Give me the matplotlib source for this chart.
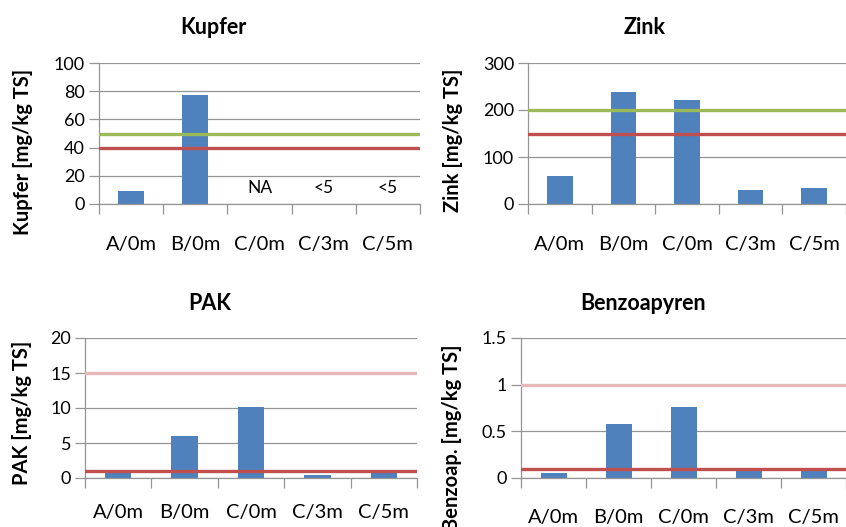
import matplotlib.pyplot as plt
from matplotlib.ticker import FixedLocator

categories = ['A/0m', 'B/0m', 'C/0m', 'C/3m', 'C/5m']

kupfer = [9, 77, 0, 0, 0]
kupfer_notes = ['', '', 'NA', '<5', '<5']
kupfer_limits = [50, 40]

zink = [59, 238, 221, 29, 35]
zink_limits = [200, 150]

pak = [0.8, 6.07, 10.2, 0.47, 0.8]
pak_limits = [15, 1]

benzo = [0.057, 0.577, 0.762, 0.075, 0.075]
benzo_limits = [1, 0.1]

BLUE = '#4F81BD'
GREEN = '#9BBB59'
RED = '#C0504D'
PINK = '#E6B9B8'
GRID = '#959595'

plt.rcParams['font.family'] = ['Lato', 'DejaVu Sans']

W, H = 846, 527
fig = plt.figure(figsize=(W / 100, H / 100), dpi=100)


def px_axes(left, top, right, bottom):
    return fig.add_axes([left / W, 1 - bottom / H, (right - left) / W, (bottom - top) / H])


def panel(ax, values, yticks, yticklabels, limits, limit_colors, ylabel, label_xy, pad):
    x = list(range(len(categories)))
    ax.bar(x, values, width=0.4, color=BLUE, zorder=2)
    for val, col in zip(limits, limit_colors):
        ax.axhline(val, color=col, lw=2.4, zorder=3)
    ax.set_xlim(-0.5, len(categories) - 0.5)
    ax.set_ylim(yticks[0], yticks[-1])
    ax.set_yticks(yticks)
    ax.set_yticklabels(yticklabels, fontsize=13)
    ax.yaxis.grid(True, color=GRID, lw=0.9, zorder=0)
    ax.set_axisbelow(True)
    ax.set_xticks(x)
    ax.set_xticklabels(categories, fontsize=14.5)
    ax.xaxis.set_minor_locator(FixedLocator([i - 0.5 for i in range(len(categories) + 1)]))
    ax.tick_params(axis='x', which='major', length=0, pad=pad)
    ax.tick_params(axis='x', which='minor', length=7, color=GRID, width=0.9)
    ax.tick_params(axis='y', length=7, color=GRID, width=0.9, pad=3)
    for s in ['top', 'right']:
        ax.spines[s].set_visible(False)
    for s in ['left', 'bottom']:
        ax.spines[s].set_color(GRID)
        ax.spines[s].set_linewidth(0.9)
    ax.set_ylabel(ylabel, fontsize=14.5, fontweight='bold')
    ax.yaxis.set_label_coords(*label_xy)


ax1 = px_axes(99, 63, 420, 204)
panel(ax1, kupfer, [0, 20, 40, 60, 80, 100], ['0', '20', '40', '60', '80', '100'],
      kupfer_limits, [GREEN, RED], 'Kupfer [mg/kg TS]', (-0.206, 0.369), 23)
for i, note in enumerate(kupfer_notes):
    if note:
        ax1.text(i, 11, note, ha='center', va='center', fontsize=12.5)

ax2 = px_axes(528, 63, 846, 204)
panel(ax2, zink, [0, 100, 200, 300], ['0', '100', '200', '300'],
      zink_limits, [GREEN, RED], 'Zink [mg/kg TS]', (-0.204, 0.454), 23)

ax3 = px_axes(85, 338, 417, 478)
panel(ax3, pak, [0, 5, 10, 15, 20], ['0', '5', '10', '15', '20'],
      pak_limits, [PINK, RED], 'PAK [mg/kg TS]', (-0.16, 0.464), 19)

ax4 = px_axes(521, 338, 846, 478)
panel(ax4, benzo, [0, 0.5, 1, 1.5], ['0', '0.5', '1', '1.5'],
      benzo_limits, [PINK, RED], 'Benzoap. [mg/kg TS]', (-0.18, 0.29), 22)

fig.text(213 / W, 1 - 28 / H, 'Kupfer', ha='center', va='center', fontsize=15.5, fontweight='bold')
fig.text(645 / W, 1 - 28 / H, 'Zink', ha='center', va='center', fontsize=15.5, fontweight='bold')
fig.text(210 / W, 1 - 303 / H, 'PAK', ha='center', va='center', fontsize=15.5, fontweight='bold')
fig.text(643 / W, 1 - 303 / H, 'Benzoapyren', ha='center', va='center', fontsize=15.5, fontweight='bold')

fig.savefig('out.png', dpi=100)
